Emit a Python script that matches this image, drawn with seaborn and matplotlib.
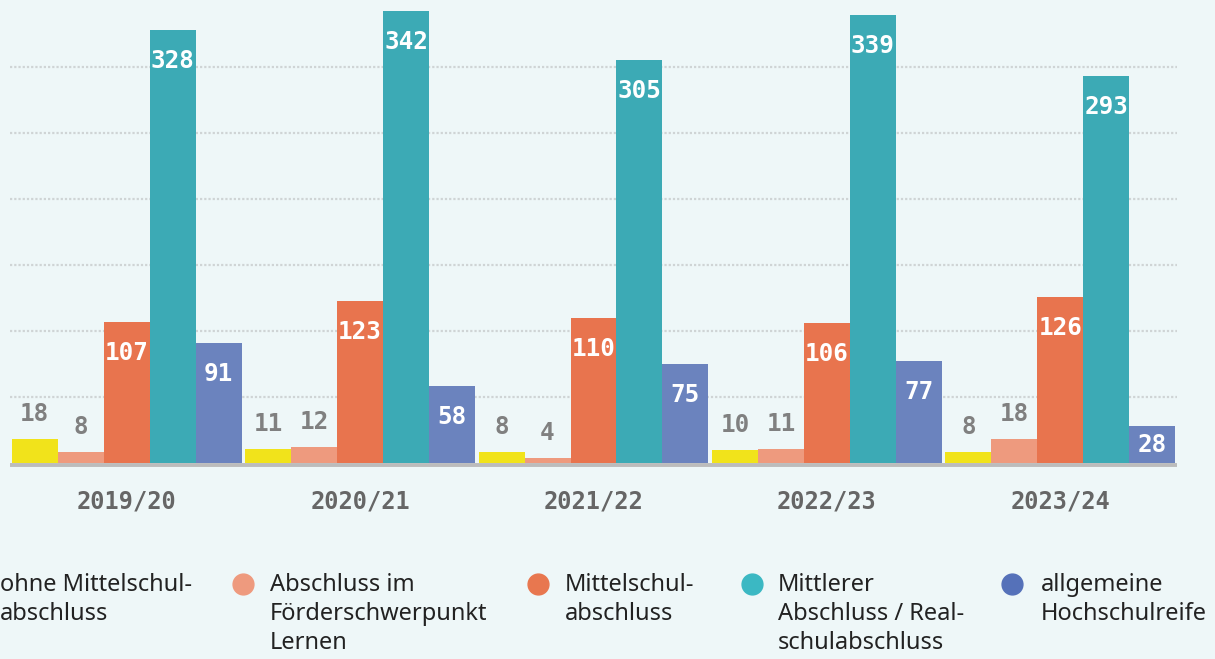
import matplotlib
matplotlib.use("Agg")
import matplotlib.pyplot as plt
from matplotlib.lines import Line2D
import seaborn as sns
import pandas as pd

years = ["2019/20", "2020/21", "2021/22", "2022/23", "2023/24"]
series_names = [
    "ohne Mittelschul-\nabschluss",
    "Abschluss im\nFörderschwerpunkt\nLernen",
    "Mittelschul-\nabschluss",
    "Mittlerer\nAbschluss / Real-\nschulabschluss",
    "allgemeine\nHochschulreife",
]
ohne = [18, 11, 8, 10, 8]
foerder = [8, 12, 4, 11, 18]
mittelschul = [107, 123, 110, 106, 126]
mittlerer = [328, 342, 305, 339, 293]
hochschul = [91, 58, 75, 77, 28]
colors = ["#f1e31b", "#ee9a7e", "#e8744e", "#3caab5", "#6b83be"]
legend_colors = ["#f1e31b", "#ee9a7e", "#e8774f", "#3bb8c3", "#5571b9"]

values = [ohne, foerder, mittelschul, mittlerer, hochschul]
rows = []
for name, vals in zip(series_names, values):
    for y, v in zip(years, vals):
        rows.append({"Jahr": y, "Serie": name, "Wert": v})
df = pd.DataFrame(rows)

bg = "#eef7f8"
sns.set_theme(style="white")
plt.rcParams["font.family"] = ["DejaVu Sans"]

fig = plt.figure(figsize=(12.15, 6.59), dpi=100, facecolor=bg)
ax = fig.add_axes([10 / 1215, (659 - 467) / 659, 1167 / 1215, 467 / 659])
ax.set_facecolor(bg)

sns.barplot(data=df, x="Jahr", y="Wert", hue="Serie", hue_order=series_names,
            order=years, palette=colors, width=0.985, dodge=True,
            saturation=1, linewidth=0, legend=False, ax=ax, zorder=2)

ax.set_xlim(-0.5, 4.5)
ax.set_ylim(-3.0, 350.7)
for g in [50, 100, 150, 200, 250, 300]:
    ax.axhline(g, color="#cfd4d5", linewidth=1.6, linestyle=(0, (1.0, 0.9)), zorder=1)
ax.axhline(-1.6, color="#bcbcbc", linewidth=2.8, zorder=3)

for s in ax.spines.values():
    s.set_visible(False)
ax.set_yticks([])
ax.set_xlabel("")
ax.set_ylabel("")
ax.tick_params(axis="x", length=0, pad=16)
ax.set_xticks(range(len(years)))
ax.set_xticklabels(years, fontfamily="DejaVu Sans Mono", fontweight="bold",
                   fontsize=17, color="#666666")

for cont in ax.containers:
    for bar in cont:
        v = bar.get_height()
        cx = bar.get_x() + bar.get_width() / 2
        if v >= 25:
            hpx = v * 1.32
            off = min(31, hpx / 2)
            ax.annotate(f"{int(round(v))}", (cx, v), xytext=(0, -off * 0.72),
                        textcoords="offset points", ha="center", va="center",
                        fontfamily="DejaVu Sans Mono", fontweight="bold",
                        fontsize=17.5, color="white", zorder=4)
        else:
            ax.annotate(f"{int(round(v))}", (cx, v), xytext=(0, 25 * 0.72),
                        textcoords="offset points", ha="center", va="center",
                        fontfamily="DejaVu Sans Mono", fontweight="bold",
                        fontsize=17.5, color="#808080", zorder=4)

# legend
marker_x = [-27, 243, 538, 752, 1012]
text_x = [0, 270, 565, 778, 1041]
for name, mc, mx, tx in zip(series_names, legend_colors, marker_x, text_x):
    fig.add_artist(Line2D([mx / 1215], [(659 - 584) / 659], transform=fig.transFigure,
                          marker="o", markersize=15, color=mc, linestyle="none"))
    fig.text(tx / 1215, (659 - 573) / 659, name, ha="left", va="top",
             fontfamily="Noto Sans", fontsize=17, color="#222222", linespacing=1.28)

fig.savefig("out.png", dpi=100, facecolor=bg)
